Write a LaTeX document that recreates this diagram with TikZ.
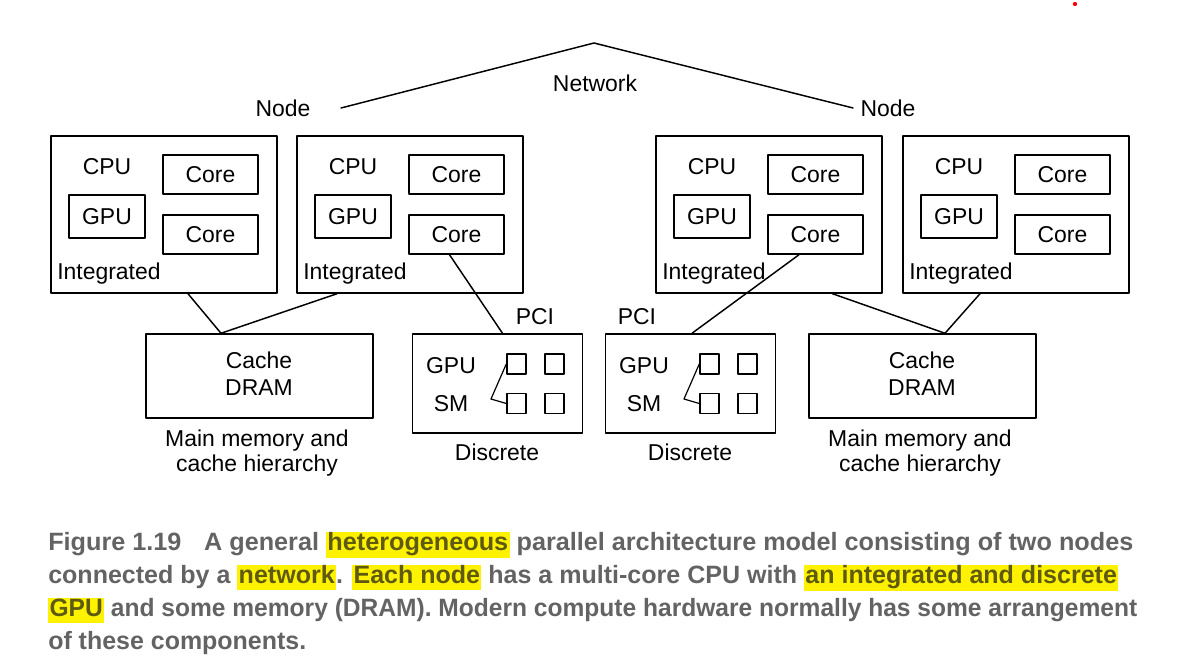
\documentclass[tikz,border=0pt]{standalone}
\usepackage{fontspec}
\setmainfont{Liberation Sans}
\usepackage{graphicx}
\usetikzlibrary{calc}

\definecolor{capgray}{HTML}{636363}
\definecolor{hly}{HTML}{FFF200}
\definecolor{hltext}{HTML}{5E5A10}
\newcommand{\hlt}[1]{{\setlength{\fboxsep}{1pt}\colorbox{hly}{\color{hltext}\rule[-3.5pt]{0pt}{16pt}#1}}}

\begin{document}
\begin{tikzpicture}[
  x=0.75pt, y=-0.75pt,
  every path/.style={line cap=round, line join=round},
  box/.style={draw, line width=1.1pt, inner sep=0pt},
  lbl/.style={inner sep=0pt, font=\fontsize{17.2}{19.5}\selectfont},
  link/.style={line width=1.1pt},
  capline/.style={anchor=base west, inner sep=0pt, text=capgray,
    font=\bfseries\fontsize{18.8}{21}\selectfont}
]
\useasboundingbox (0,0) rectangle (1190,666);

% ---------------- Network ----------------
\coordinate (netTop) at (594,43);
\coordinate (netL) at (341,108);
\coordinate (netR) at (853,108);
\draw[link] (netL) -- (netTop) -- (netR);
\node[lbl, anchor=base] (netLbl) at (595,92) {Network};
\node[lbl, anchor=base] (nodeL) at (283,117) {Node};
\node[lbl, anchor=base] (nodeR) at (888,117) {Node};

% ---------------- Integrated CPU/GPU boxes ----------------
\foreach \n/\dx in {A/0,B/246,C/605,D/852} {
  \begin{scope}[shift={(\dx,0)}]
    \node[box, minimum width=169.5pt, minimum height=117.75pt] (int\n) at (164,214.5) {};
    \node[lbl, anchor=base] (cpu\n) at (107,175) {CPU};
    \node[box, lbl, minimum width=57pt, minimum height=32.25pt] (gpu\n) at (107,216.5) {GPU};
    \node[box, lbl, minimum width=71.25pt, minimum height=29.25pt] (coreTop\n) at (210.5,174.5) {Core};
    \node[box, lbl, minimum width=71.25pt, minimum height=29.25pt] (coreBot\n) at (210.5,234.5) {Core};
    \node[lbl, anchor=base west] (intLbl\n) at (57,280) {Integrated};
  \end{scope}
}

% ---------------- Discrete GPUs ----------------
\foreach \n/\dx in {L/0,R/193} {
  \begin{scope}[shift={(\dx,0)}]
    \node[box, minimum width=127.5pt, minimum height=74.25pt] (disc\n) at (497.5,383.5) {};
    \node[lbl, anchor=base] (dgpu\n) at (451,374) {GPU};
    \node[lbl, anchor=base] (sm\n) at (451,412) {SM};
    \node[box, minimum width=14.25pt, minimum height=15pt] (sqA\n) at (516.5,364) {};
    \node[box, minimum width=14.25pt, minimum height=15pt] (sqB\n) at (554.5,364) {};
    \node[box, minimum width=14.25pt, minimum height=15pt] (sqC\n) at (516.5,403.5) {};
    \node[box, minimum width=14.25pt, minimum height=15pt] (sqD\n) at (554.5,403.5) {};
    \coordinate (brk\n) at (491,399);
    \draw[line width=0.9pt] (sqA\n.west) -- (brk\n) -- (sqC\n.west);
    \node[lbl, anchor=base] (discLbl\n) at (497,461) {Discrete};
  \end{scope}
}
\node[lbl, anchor=base] (pciL) at (535,325) {PCI};
\node[lbl, anchor=base] (pciR) at (637,325) {PCI};

% ---------------- Main memory ----------------
\foreach \n/\dx in {A/0,B/663} {
  \begin{scope}[shift={(\dx,0)}]
    \node[box, minimum width=170.25pt, minimum height=63pt] (cache\n) at (259.5,376) {};
    \node[lbl, anchor=base] (cacheLbl\n) at (259,369) {Cache};
    \node[lbl, anchor=base] (dram\n) at (259,396) {DRAM};
    \node[lbl, anchor=base] (mem\n) at (257,447) {Main memory and};
    \node[lbl, anchor=base] (hier\n) at (257,472) {cache hierarchy};
  \end{scope}
}

% ---------------- Links ----------------
\draw[link] ($(intA.south)+(24,0)$) -- ($(cacheA.north)+(-38.5,0)$) -- ($(intB.south)+(-73,0)$);
\draw[link] ($(coreBotB.south)+(-7,0)$) -- ($(discL.north)+(5,0)$);
\draw[link] ($(coreBotC.south)+(-16.5,0)$) -- ($(discR.north)+(1.5,0)$);
\draw[link] ($(intC.south)+(63.5,0)$) -- ($(cacheB.north)+(22.5,0)$) -- ($(intD.south)+(-36,0)$);

\fill[red] (1075,4) circle[radius=1.6pt];

% ---------------- Caption ----------------
\node[capline] (cap1) at (48,551) {\resizebox{813.75pt}{\height}{Figure 1.19\hspace{0.9em}A general \hlt{heterogeneous} parallel architecture model consisting of two nodes}};
\node[capline] (cap2) at (48,584) {\resizebox{802.5pt}{\height}{connected by a \hlt{network}. \hlt{Each node} has a multi-core CPU with \hlt{an integrated and discrete}}};
\node[capline] (cap3) at (48,617) {\resizebox{816.75pt}{\height}{\hlt{GPU} and some memory (DRAM). Modern compute hardware normally has some arrangement}};
\node[capline] (cap4) at (48,650) {\resizebox{193.5pt}{\height}{of these components.}};

\end{tikzpicture}
\end{document}
